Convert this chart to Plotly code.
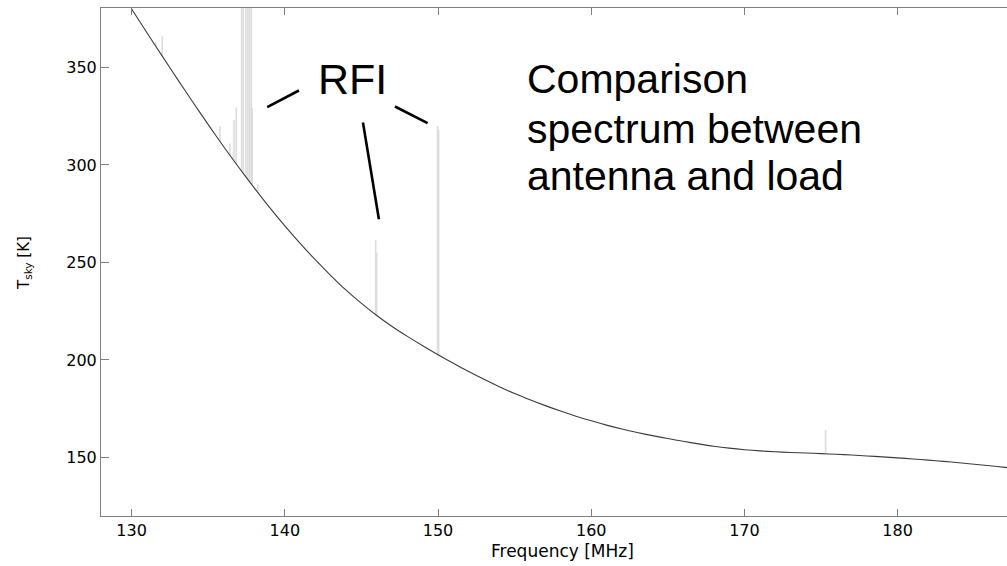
import plotly.graph_objects as go

# Smooth spectrum (antenna vs load), read every 1 MHz
freq_mhz = list(range(130, 189))
t_sky = [380.0, 367.8, 355.8, 343.9, 332.2, 320.7, 309.5, 298.7, 288.3, 278.3,
         268.8, 259.8, 251.3, 243.3, 235.8, 229.0, 222.8, 217.2, 212.1, 207.3,
         202.7, 198.3, 194.1, 190.1, 186.3, 182.8, 179.6, 176.6, 173.8, 171.2,
         168.8, 166.6, 164.6, 162.8, 161.2, 159.7, 158.3, 157.0, 155.8, 154.8,
         154.0, 153.4, 152.95, 152.6, 152.3, 152.0, 151.65, 151.25, 150.8, 150.3,
         149.8, 149.25, 148.65, 148.0, 147.3, 146.55, 145.75, 144.95, 144.1]

# RFI spikes: frequency, base and peak temperature
spike_freq = [131.57, 132.0, 135.76, 136.42, 136.68, 136.83, 137.18, 137.29, 137.46,
              137.59, 137.70, 137.81, 137.87, 138.24, 145.93, 146.0, 149.97, 150.04, 175.3]
spike_peak = [363, 366, 320, 311, 323, 329.5, 400, 400, 400,
              400, 400, 400, 329, 290, 261.5, 255, 320, 318, 164]
spike_base = [361, 356, 312, 305, 302, 300, 296.5, 295.5, 294,
              292.5, 291.5, 290.5, 290, 286.5, 223, 222.5, 202.5, 202, 152]

x_ticks = [130, 140, 150, 160, 170, 180]
y_ticks = [150, 200, 250, 300, 350]

# pointer lines from "RFI" label (data coordinates)
pointer_lines = [((138.85, 329.7), (140.92, 338.2)),
                 ((145.10, 321.8), (146.14, 272.2)),
                 ((147.19, 330.0), (149.32, 321.5))]

sx, sy = [], []
for f, b, p in zip(spike_freq, spike_base, spike_peak):
    sx += [f, f, None]
    sy += [b, p, None]

fig = go.Figure()
fig.add_trace(go.Scatter(x=sx, y=sy, mode="lines",
                         line=dict(color="#dcdcdc", width=1.6), showlegend=False))
fig.add_trace(go.Scatter(x=freq_mhz, y=t_sky, mode="lines",
                         line=dict(color="#3c3c3c", width=1.1, shape="spline", smoothing=0.8),
                         showlegend=False))

FONT = "Liberation Sans, Arial, sans-serif"
SMALL = "DejaVu Sans, sans-serif"
axis_common = dict(showgrid=False, zeroline=False, showline=True, linecolor="#7f7f7f",
                   linewidth=1, ticks="inside", tickcolor="#7f7f7f", tickwidth=1,
                   tickfont=dict(family=SMALL, size=16, color="#000"))

fig.update_xaxes(range=[128, 187.14], tickvals=x_ticks, ticklen=7, mirror="ticks",
                 **axis_common)
fig.update_yaxes(range=[120, 380.5], tickvals=y_ticks, ticklen=8, **axis_common)

shapes = []
for (x0, y0), (x1, y1) in pointer_lines:
    shapes.append(dict(type="line", xref="x", yref="y", x0=x0, y0=y0, x1=x1, y1=y1,
                       line=dict(color="#000", width=2.6)))

# page-pixel helpers (plot area spans x 101..1007, y 8..516)
def px_x(px):
    return (px - 101) / 906

def px_y(py):
    return (516 - py) / 508

annotations = [
    dict(text="RFI", x=px_x(352.9), y=px_y(79), xref="paper", yref="paper",
         xanchor="center", yanchor="middle", showarrow=False,
         font=dict(family=FONT, size=43, color="#000")),
    dict(text="Comparison", x=px_x(525), y=px_y(79.5), xref="paper", yref="paper",
         xanchor="left", yanchor="middle", showarrow=False,
         font=dict(family=FONT, size=41, color="#000")),
    dict(text="spectrum between", x=px_x(525), y=px_y(129), xref="paper", yref="paper",
         xanchor="left", yanchor="middle", showarrow=False,
         font=dict(family=FONT, size=41, color="#000")),
    dict(text="antenna and load", x=px_x(525), y=px_y(176), xref="paper", yref="paper",
         xanchor="left", yanchor="middle", showarrow=False,
         font=dict(family=FONT, size=41, color="#000")),
    dict(text="Frequency [MHz]", x=px_x(562), y=px_y(551), xref="paper", yref="paper",
         xanchor="center", yanchor="middle", showarrow=False,
         font=dict(family=SMALL, size=17, color="#000")),
    dict(text="T<sub>sky</sub> [K]", x=px_x(24), y=px_y(263), xref="paper", yref="paper",
         xanchor="center", yanchor="middle", showarrow=False, textangle=-90,
         font=dict(family=SMALL, size=15, color="#000")),
]

fig.update_layout(width=1007, height=566, margin=dict(l=101, r=0, t=8, b=50),
                  plot_bgcolor="white", paper_bgcolor="white",
                  shapes=shapes, annotations=annotations, showlegend=False)

fig.write_html("out.html", config={"displayModeBar": False},
               post_script="document.body.style.margin='0';"
                           "document.body.style.overflow='hidden';")
